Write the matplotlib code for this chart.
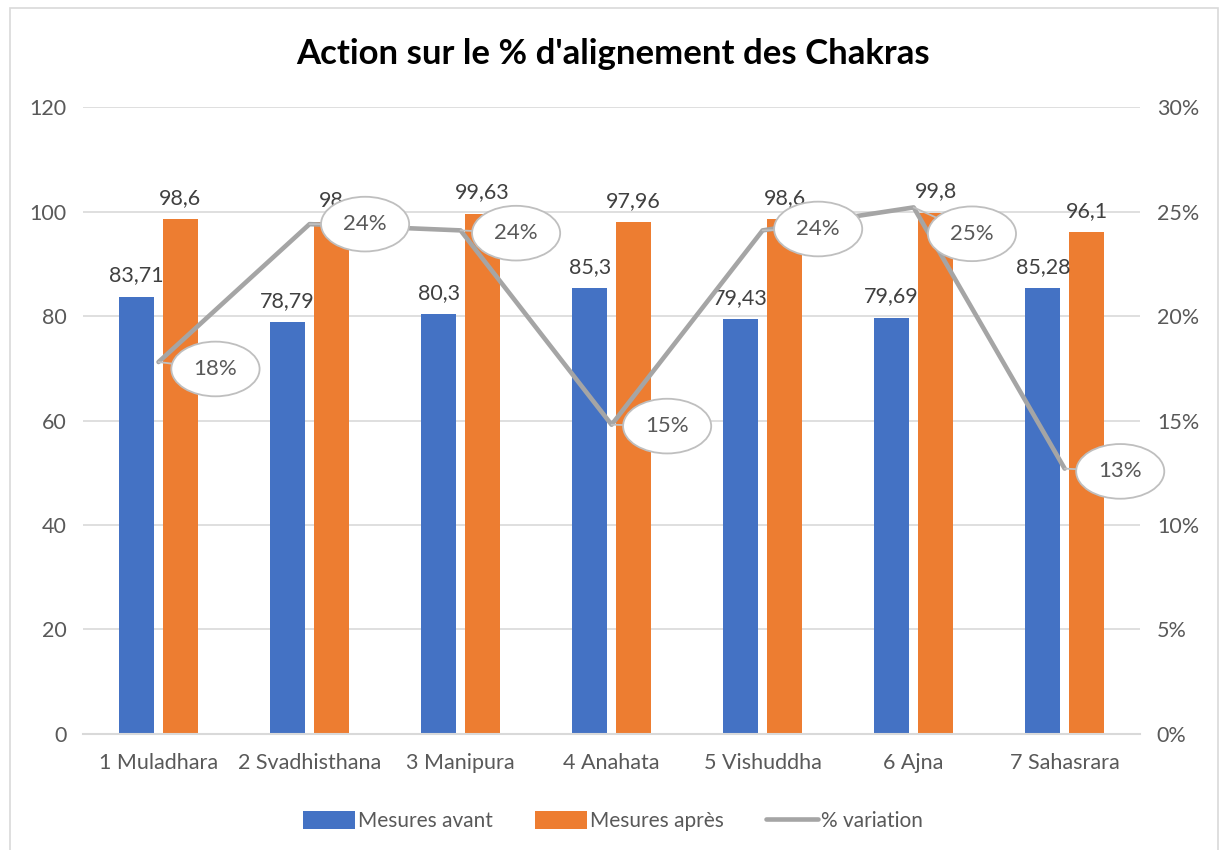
import matplotlib.pyplot as plt
import numpy as np
from matplotlib.patches import Rectangle
from matplotlib.ticker import PercentFormatter

plt.rcParams['font.family'] = ['Lato', 'DejaVu Sans']

chakras = ['1 Muladhara', '2 Svadhisthana', '3 Manipura', '4 Anahata',
           '5 Vishuddha', '6 Ajna', '7 Sahasrara']
avant = [83.71, 78.79, 80.3, 85.3, 79.43, 79.69, 85.28]
apres = [98.6, 98, 99.63, 97.96, 98.6, 99.8, 96.1]
variation = [0.178, 0.244, 0.241, 0.148, 0.241, 0.252, 0.127]

blue = '#4472C4'
orange = '#ED7D31'
gray = '#A5A5A5'
txt = '#595959'

fig = plt.figure(figsize=(12.26, 8.5), dpi=100)
ax = fig.add_axes([0.0677, 0.1365, 0.8623, 0.7375])
ax2 = ax.twinx()

x = np.arange(len(chakras))
w = 0.23
b1 = ax.bar(x - 0.145, avant, w, color=blue, zorder=2, label='Mesures avant')
b2 = ax.bar(x + 0.145, apres, w, color=orange, zorder=2, label='Mesures après')

for bars, vals in ((b1, avant), (b2, apres)):
    for r, v in zip(bars, vals):
        ax.annotate(f"{v:g}".replace('.', ','), (r.get_x() + r.get_width() / 2, v),
                    xytext=(0, 8), textcoords='offset points', ha='center', va='bottom',
                    fontsize=15.5, color='#404040')

ax.set_ylim(0, 120)
ax.set_yticks(range(0, 121, 20))
ax.set_xlim(-0.5, len(chakras) - 0.5)
ax.set_xticks(x)
ax.set_xticklabels(chakras)
ax.grid(axis='y', color='#D9D9D9', lw=1.2, zorder=0)
ax.set_axisbelow(True)

line, = ax2.plot(x, variation, color=gray, lw=3.3, solid_joinstyle='round',
                 solid_capstyle='round', zorder=3, label='% variation')
ax2.set_ylim(0, 0.30)
ax2.set_yticks(np.arange(0, 0.301, 0.05))
ax2.yaxis.set_major_formatter(PercentFormatter(1.0, decimals=0))

offsets = [(41, -5), (40, 0), (40, -2), (40, -1), (40, 1), (42, -19), (40, -2)]
for xi, v, off in zip(x, variation, offsets):
    ax2.annotate(f"{round(v * 100):.0f}%", (xi, v), xytext=off, textcoords='offset points',
                 ha='center', va='center', fontsize=16, color=txt, zorder=5,
                 bbox=dict(boxstyle='ellipse,pad=0.42', fc='white', ec='#BFBFBF', lw=1.3),
                 arrowprops=dict(arrowstyle='-', color='#BFBFBF', lw=1.3,
                                 shrinkA=0, shrinkB=0))

for a in (ax, ax2):
    for s in ('top', 'left', 'right'):
        a.spines[s].set_visible(False)
    a.spines['bottom'].set_color('#D9D9D9')
    a.spines['bottom'].set_linewidth(1.5)
    a.tick_params(length=0, labelsize=15.5, colors=txt, pad=12)
ax.tick_params(axis='x', pad=14)
ax2.spines['bottom'].set_visible(False)

fig.suptitle("Action sur le % d'alignement des Chakras", y=0.955, fontsize=25,
             fontweight='bold', color='black')

fig.legend([b1, b2, line], ['Mesures avant', 'Mesures après', '% variation'],
           loc='lower center', bbox_to_anchor=(0.5, 0.0), ncol=3, frameon=False,
           fontsize=15, labelcolor=txt, handlelength=2.5, handleheight=0.9,
           columnspacing=2.0, handletextpad=0.15)

fig.patches.append(Rectangle((10 / 1226, -0.01), 1208 / 1226, 1 - 8 / 850 + 0.01,
                             transform=fig.transFigure, fill=False, ec='#D9D9D9', lw=1.2))

fig.savefig('out.png', dpi=100)
